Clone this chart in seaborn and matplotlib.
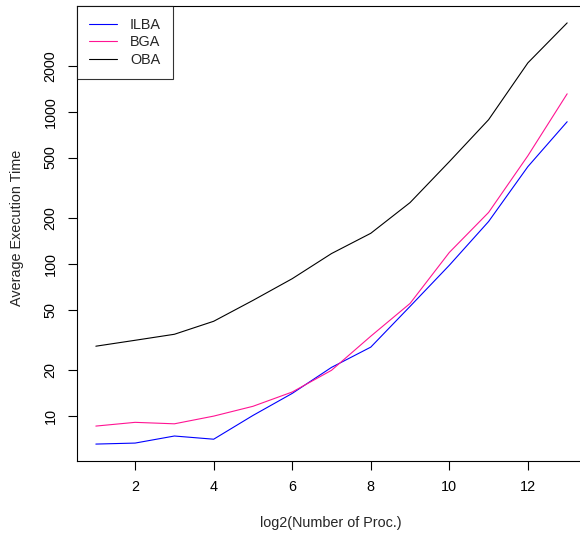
import pandas as pd
import matplotlib
matplotlib.use('Agg')
import matplotlib.pyplot as plt
import seaborn as sns

# values (log2 of processor count vs avg time)
procs = [1, 2, 3, 4, 5, 6, 7, 8, 9, 10, 11, 12, 13]
ilba = [6.55, 6.65, 7.4, 7.05, 10.1, 14.1, 20.9, 28.4, 52.6, 98, 190, 436, 860]
bga = [8.6, 9.1, 8.9, 10.0, 11.6, 14.4, 20.0, 33.5, 55, 119, 218, 514, 1312]
oba = [28.8, 31.5, 34.5, 42, 57.6, 80, 117, 159, 253, 470, 887, 2096, 3836]
series = ['ILBA', 'BGA', 'OBA']
colors = ['#0000FF', '#FF1493', '#000000']
yticks = [10, 20, 50, 100, 200, 500, 1000, 2000]
xticks = [2, 4, 6, 8, 10, 12]

df = pd.DataFrame({
    'proc': procs * 3,
    'time': ilba + bga + oba,
    'algo': [s for s in series for _ in procs],
})

sns.set_style('white')
plt.rcParams['font.family'] = ['Liberation Sans', 'DejaVu Sans']
fs = 10.4

fig = plt.figure(figsize=(5.8, 5.36), dpi=100)
W, H = 580, 536
ax = fig.add_axes([77 / W, (H - 461) / H, (586 - 77) / W, (461 - 6) / H])

sns.lineplot(data=df, x='proc', y='time', hue='algo', hue_order=series,
             palette=colors, linewidth=0.8, ax=ax, legend=False)

ax.set_yscale('log')
ax.set_xlim(0.52, 13.48)
ax.set_ylim(5.07, 4955)
ax.set_yticks(yticks)
ax.set_yticklabels([str(v) for v in yticks], rotation=90, va='center')
ax.minorticks_off()
ax.set_xticks(xticks)
ax.set_xticklabels([str(v) for v in xticks])
ax.set_xlabel('')
ax.set_ylabel('')

for s in ax.spines.values():
    s.set_color('black')
    s.set_linewidth(0.8)
ax.tick_params(axis='both', direction='out', length=6.5, width=0.8,
               color='black', labelcolor='black', labelsize=fs,
               left=True, bottom=True)
ax.tick_params(axis='y', pad=7.5)
ax.tick_params(axis='x', pad=7)

fig.text(17 / W, 1 - 228 / H, 'Average Execution Time', rotation=90,
         ha='center', va='center', fontsize=fs)
fig.text(331 / W, 1 - 523 / H, 'log2(Number of Proc.)',
         ha='center', va='center', fontsize=fs)

handles = [plt.Line2D([], [], color=c, linewidth=0.8) for c in colors]
leg = ax.legend(handles, series, loc='upper left', bbox_to_anchor=(0, 1),
                frameon=True, fancybox=False, fontsize=fs, borderaxespad=0,
                handlelength=1.95, handletextpad=0.9, labelspacing=0.25,
                borderpad=0.82)
leg.get_frame().set_edgecolor('black')
leg.get_frame().set_linewidth(0.8)

fig.savefig('out.png', dpi=100)
